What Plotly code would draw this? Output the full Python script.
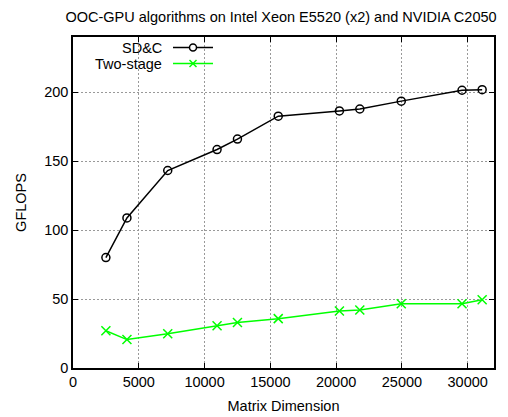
import plotly.graph_objects as go

matrix_dim = [2500, 4100, 7200, 10950, 12500, 15600, 20250, 21800, 24950, 29570, 31100]
sdc_gflops = [80.1, 108.8, 143.2, 158.4, 166.0, 182.6, 186.4, 187.8, 193.5, 201.4, 201.8]
two_stage_gflops = [27.0, 20.6, 24.9, 30.7, 33.0, 35.8, 41.3, 42.0, 46.6, 46.6, 49.5]

x_ticks = [0, 5000, 10000, 15000, 20000, 25000, 30000]
y_ticks = [0, 50, 100, 150, 200]

title_text = "OOC-GPU algorithms on Intel Xeon E5520 (x2) and NVIDIA C2050"
series_names = ["SD&C", "Two-stage"]
green = "#00ff00"
font_family = "Liberation Sans, Arial, Helvetica, sans-serif"
FS = 14.5

# page is shown with the browser's default 8px body margin
W, H = 500, 409

fig = go.Figure()
fig.add_trace(go.Scatter(
    x=matrix_dim, y=sdc_gflops, mode="lines+markers", name=series_names[0],
    line=dict(color="black", width=1.5),
    marker=dict(symbol="circle-open", size=8, color="black", line=dict(width=1.5)),
    showlegend=False,
))
fig.add_trace(go.Scatter(
    x=matrix_dim, y=two_stage_gflops, mode="lines+markers", name=series_names[1],
    line=dict(color=green, width=1.5),
    marker=dict(symbol="x-thin-open", size=9, color=green, line=dict(width=1.5, color=green)),
    showlegend=False,
))

# gnuplot-style legend: text right-aligned, sample to its right
x0, x1 = 73, 494
y0, y1 = 37, 368
def px(x):
    return (x - x0) / (x1 - x0)
def py(y):
    return (y1 - y) / (y1 - y0)

shapes = []
annotations = []
legend_rows = [(47.5, "black", "circle"), (63.5, green, "x")]
for (ry, col, sym), name in zip(legend_rows, series_names):
    annotations.append(dict(
        x=px(164), y=py(ry), xref="paper", yref="paper", text=name, showarrow=False,
        xanchor="right", yanchor="middle", font=dict(size=FS, color="black", family=font_family),
    ))
    shapes.append(dict(type="line", xref="paper", yref="paper",
                       x0=px(173), x1=px(213), y0=py(ry), y1=py(ry),
                       line=dict(color=col, width=1.5)))
    if sym == "circle":
        shapes.append(dict(type="circle", xref="paper", yref="paper",
                           x0=px(189.5), x1=px(196.5), y0=py(ry - 3.5), y1=py(ry + 3.5),
                           line=dict(color=col, width=1.5), fillcolor="white"))
    else:
        shapes.append(dict(type="line", xref="paper", yref="paper",
                           x0=px(189.5), x1=px(196.5), y0=py(ry - 3.5), y1=py(ry + 3.5),
                           line=dict(color=col, width=1.5)))
        shapes.append(dict(type="line", xref="paper", yref="paper",
                           x0=px(189.5), x1=px(196.5), y0=py(ry + 3.5), y1=py(ry - 3.5),
                           line=dict(color=col, width=1.5)))

fig.update_layout(
    width=W, height=H,
    margin=dict(l=73 - 8, r=W - (494 - 8), t=37 - 8, b=H - (368 - 8), autoexpand=False),
    paper_bgcolor="white", plot_bgcolor="white",
    font=dict(family=font_family, size=FS, color="black"),
    title=dict(text=title_text, x=(281 - 8) / W, xanchor="center", xref="container",
               y=1 - (17 - 8) / H, yanchor="middle", yref="container",
               font=dict(size=14.5, color="black"), automargin=False),
    shapes=shapes, annotations=annotations,
    showlegend=False,
)
fig.update_xaxes(
    range=[0, 32000], tickvals=x_ticks, ticktext=[str(v) for v in x_ticks],
    showline=True, linecolor="black", linewidth=1.5, mirror="ticks",
    ticks="inside", ticklen=5, tickcolor="black",
    showgrid=True, gridcolor="#999999", griddash="2px,2px", gridwidth=1,
    zeroline=False, automargin=False,
    title=dict(text="Matrix Dimension", font=dict(size=FS), standoff=12),
)
fig.update_yaxes(
    range=[0, 240], tickvals=y_ticks, ticktext=[str(v) for v in y_ticks],
    showline=True, linecolor="black", linewidth=1.5, mirror="ticks",
    ticks="inside", ticklen=5, tickcolor="black",
    showgrid=True, gridcolor="#999999", griddash="2px,2px", gridwidth=1,
    zeroline=False, automargin=False,
    title=dict(text="GFLOPS", font=dict(size=FS), standoff=14),
)

fig.write_html("out.html")
